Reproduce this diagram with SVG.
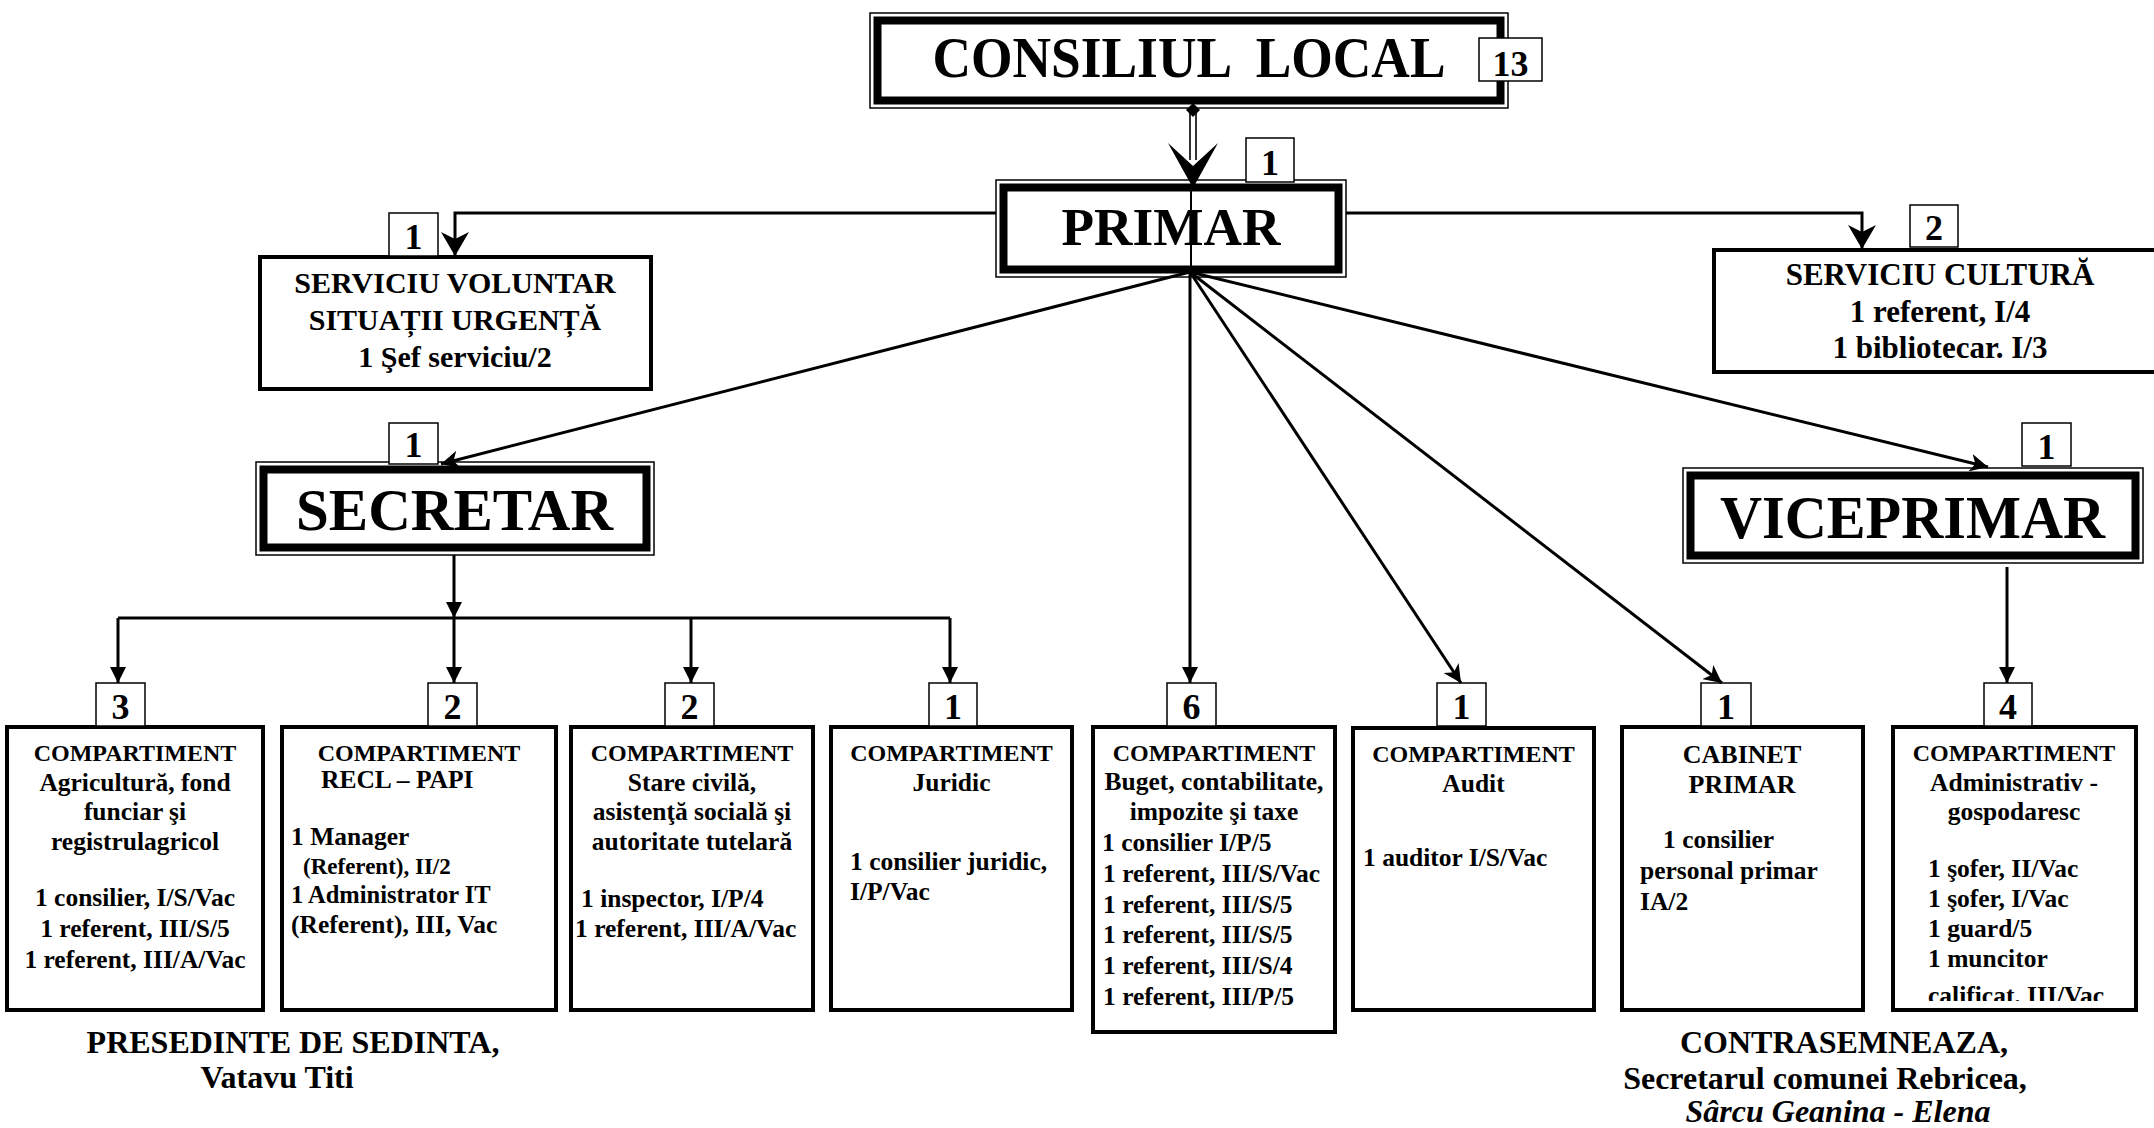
<svg xmlns="http://www.w3.org/2000/svg" width="2154" height="1128" viewBox="0 0 2154 1128">
<defs>
<style>
text{font-family:"Liberation Serif","Times New Roman",serif;font-weight:bold;fill:#000}
.c{text-anchor:middle}
.h{font-size:24px}
.b{font-size:25.5px}
.num{font-size:36px;text-anchor:middle}
.nb{fill:#fff;stroke:#000;stroke-width:1.5}
.box{fill:#fff;stroke:#000;stroke-width:4}
.dout{fill:#fff;stroke:#000;stroke-width:1.5}
.din{fill:none;stroke:#000;stroke-width:8}
.ln{fill:none;stroke:#000;stroke-width:3}
.thin{fill:none;stroke:#000;stroke-width:1.6}
.sig{font-size:32px}
.sv{font-size:30px}
</style>
<marker id="tri" markerUnits="userSpaceOnUse" markerWidth="16" markerHeight="16" viewBox="0 0 16 16" refX="16" refY="8" orient="auto"><path d="M0,0 L16,8 L0,16 z" fill="#000"/></marker>
<marker id="stl" markerUnits="userSpaceOnUse" markerWidth="18" markerHeight="18" viewBox="0 0 18 18" refX="18" refY="9" orient="auto"><path d="M0,0 L18,9 L0,18 L5,9 z" fill="#000"/></marker>
<marker id="stlBig" markerUnits="userSpaceOnUse" markerWidth="24" markerHeight="28" viewBox="0 0 24 28" refX="24" refY="14" orient="auto"><path d="M0,0 L24,14 L0,28 L7,14 z" fill="#000"/></marker>
<clipPath id="clip8"><rect x="1893" y="727" width="243" height="274"/></clipPath>
</defs>
<rect x="0" y="0" width="2154" height="1128" fill="#fff"/>

<g id="consiliul-local">
<rect class="dout" x="870" y="13" width="638" height="95"/>
<rect class="din" x="877.5" y="20.5" width="623" height="80"/>
<text class="c" x="1189" y="77" font-size="56" textLength="513" lengthAdjust="spacingAndGlyphs" xml:space="preserve">CONSILIUL  LOCAL</text>
<rect class="nb" x="1479" y="38" width="63" height="43"/>
<text class="num" x="1510.5" y="76" font-size="40">13</text>
</g>

<g id="primar">
<rect class="dout" x="996" y="180" width="350" height="97"/>
<rect class="din" x="1003.5" y="187.5" width="335" height="82"/>
<text class="c" x="1171" y="245" font-size="53" textLength="219" lengthAdjust="spacingAndGlyphs">PRIMAR</text>
<rect class="nb" x="1246" y="138" width="48" height="44"/>
<text class="num" x="1270" y="175">1</text>
</g>

<g id="serviciu-voluntar">
<rect class="box" x="260" y="257" width="391" height="132"/>
<text class="c sv" x="455" y="293">SERVICIU VOLUNTAR</text>
<text class="c sv" x="455" y="330">SITUAȚII URGENȚĂ</text>
<text class="c sv" x="455" y="367">1 Şef serviciu/2</text>
<rect class="nb" x="389" y="213" width="49" height="43"/>
<text class="num" x="413.5" y="249">1</text>
</g>

<g id="serviciu-cultura">
<rect class="box" x="1714" y="250" width="452" height="122"/>
<text class="c" x="1940" y="285" font-size="31">SERVICIU CULTURĂ</text>
<text class="c" x="1940" y="322" font-size="31">1 referent, I/4</text>
<text class="c" x="1940" y="358" font-size="31">1 bibliotecar. I/3</text>
<rect class="nb" x="1910" y="205" width="48" height="42"/>
<text class="num" x="1934" y="240">2</text>
</g>

<g id="secretar">
<rect class="dout" x="256" y="462" width="398" height="93"/>
<rect class="din" x="263.5" y="469.5" width="383" height="78"/>
<text class="c" x="454.5" y="530" font-size="60" textLength="317" lengthAdjust="spacingAndGlyphs">SECRETAR</text>
<rect class="nb" x="389" y="423" width="49" height="41"/>
<text class="num" x="413.5" y="457">1</text>
</g>

<g id="viceprimar">
<rect class="dout" x="1683" y="468" width="460" height="95"/>
<rect class="din" x="1690.5" y="475.5" width="445" height="80"/>
<text class="c" x="1912.5" y="538" font-size="62" textLength="385" lengthAdjust="spacingAndGlyphs">VICEPRIMAR</text>
<rect class="nb" x="2022" y="423" width="49" height="43"/>
<text class="num" x="2046.5" y="459">1</text>
</g>

<g id="comp-agricultura">
<rect class="box" x="7" y="727" width="256" height="283"/>
<text class="c h" x="135" y="761">COMPARTIMENT</text>
<text class="c b" x="135" y="791">Agricultură, fond</text>
<text class="c b" x="135" y="820">funciar şi</text>
<text class="c b" x="135" y="850">registrulagricol</text>
<text class="c b" x="135" y="906">1 consilier, I/S/Vac</text>
<text class="c b" x="135" y="937">1 referent, III/S/5</text>
<text class="c b" x="135" y="968">1 referent, III/A/Vac</text>
<rect class="nb" x="96" y="683" width="49" height="43"/>
<text class="num" x="120.5" y="719">3</text>
</g>

<g id="comp-recl">
<rect class="box" x="282" y="727" width="274" height="283"/>
<text class="c h" x="419" y="761">COMPARTIMENT</text>
<text class="b" x="321" y="788">RECL – PAPI</text>
<text class="b" x="291" y="845">1 Manager</text>
<text x="303" y="874" font-size="23">(Referent), II/2</text>
<text x="291" y="903" font-size="24.5">1 Administrator IT</text>
<text class="b" x="291" y="933">(Referent), III, Vac</text>
<rect class="nb" x="428" y="683" width="49" height="43"/>
<text class="num" x="452.5" y="719">2</text>
</g>

<g id="comp-stare-civila">
<rect class="box" x="571" y="727" width="242" height="283"/>
<text class="c h" x="692" y="761">COMPARTIMENT</text>
<text class="c b" x="692" y="791">Stare civilă,</text>
<text class="c b" x="692" y="820">asistenţă socială şi</text>
<text class="c b" x="692" y="850">autoritate tutelară</text>
<text class="b" x="581" y="907">1 inspector, I/P/4</text>
<text class="b" x="575" y="937">1 referent, III/A/Vac</text>
<rect class="nb" x="665" y="683" width="49" height="43"/>
<text class="num" x="689.5" y="719">2</text>
</g>

<g id="comp-juridic">
<rect class="box" x="831" y="727" width="241" height="283"/>
<text class="c h" x="951.5" y="761">COMPARTIMENT</text>
<text class="c b" x="951.5" y="791">Juridic</text>
<text class="b" x="850" y="870">1 consilier juridic,</text>
<text class="b" x="850" y="900">I/P/Vac</text>
<rect class="nb" x="929" y="683" width="48" height="43"/>
<text class="num" x="953" y="719">1</text>
</g>

<g id="comp-buget">
<rect class="box" x="1093" y="727" width="242" height="305"/>
<text class="c h" x="1214" y="761">COMPARTIMENT</text>
<text class="c b" x="1214" y="790">Buget, contabilitate,</text>
<text class="c b" x="1214" y="820">impozite şi taxe</text>
<text class="b" x="1102" y="851">1 consilier I/P/5</text>
<text class="b" x="1103" y="882">1 referent, III/S/Vac</text>
<text class="b" x="1103" y="913">1 referent, III/S/5</text>
<text class="b" x="1103" y="943">1 referent, III/S/5</text>
<text class="b" x="1103" y="974">1 referent, III/S/4</text>
<text class="b" x="1103" y="1005">1 referent, III/P/5</text>
<rect class="nb" x="1167" y="683" width="49" height="43"/>
<text class="num" x="1191.5" y="719">6</text>
</g>

<g id="comp-audit">
<rect class="box" x="1353" y="728" width="241" height="282"/>
<text class="c h" x="1473.5" y="762">COMPARTIMENT</text>
<text class="c b" x="1473.5" y="792">Audit</text>
<text class="b" x="1363" y="866">1 auditor I/S/Vac</text>
<rect class="nb" x="1437" y="683" width="49" height="43"/>
<text class="num" x="1461.5" y="719">1</text>
</g>

<g id="cabinet-primar">
<rect class="box" x="1622" y="727" width="241" height="283"/>
<text class="c" x="1742" y="763" font-size="26">CABINET</text>
<text class="c" x="1742" y="793" font-size="26">PRIMAR</text>
<text class="b" x="1663" y="848">1 consilier</text>
<text class="b" x="1640" y="879">personal primar</text>
<text class="b" x="1640" y="910">IA/2</text>
<rect class="nb" x="1701" y="683" width="50" height="43"/>
<text class="num" x="1726" y="719">1</text>
</g>

<g id="comp-administrativ">
<rect class="box" x="1893" y="727" width="243" height="283"/>
<text class="c h" x="2014" y="761">COMPARTIMENT</text>
<text class="c b" x="2014" y="791">Administrativ -</text>
<text class="c b" x="2014" y="820">gospodaresc</text>
<text class="b" x="1928" y="877">1 şofer, II/Vac</text>
<text class="b" x="1928" y="907">1 şofer, I/Vac</text>
<text class="b" x="1928" y="937">1 guard/5</text>
<text class="b" x="1928" y="967">1 muncitor</text>
<text class="b" x="1928" y="1004" clip-path="url(#clip8)">calificat. III/Vac</text>
<rect class="nb" x="1984" y="683" width="48" height="43"/>
<text class="num" x="2008" y="719">4</text>
</g>

<g id="connectors">
<line class="thin" x1="1190" y1="110" x2="1190" y2="160"/>
<line class="thin" x1="1196" y1="110" x2="1196" y2="160"/>
<polygon points="1193,103 1200,110 1193,117 1186,110" fill="#000"/>
<polygon points="1168,143 1193,166 1218,143 1193,188" fill="#000"/>
<line x1="1191" y1="185" x2="1191" y2="272" stroke="#000" stroke-width="2"/>

<path class="ln" d="M996,213 H455 V256" marker-end="url(#stlBig)"/>
<path class="ln" d="M1346,213 H1862 V249" marker-end="url(#stlBig)"/>

<path class="ln" d="M1190,272 L441,464" marker-end="url(#stl)"/>
<path class="ln" d="M1190,272 V683" marker-end="url(#tri)"/>
<path class="ln" d="M1190,272 L1461,683" marker-end="url(#stl)"/>
<path class="ln" d="M1190,272 L1722,683" marker-end="url(#stl)"/>
<path class="ln" d="M1190,272 L1988,467" marker-end="url(#stl)"/>

<path class="ln" d="M454,555 V618" marker-end="url(#tri)"/>
<path class="ln" d="M118,618 H950"/>
<path class="ln" d="M118,618 V683" marker-end="url(#tri)"/>
<path class="ln" d="M454,618 V683" marker-end="url(#tri)"/>
<path class="ln" d="M691,618 V683" marker-end="url(#tri)"/>
<path class="ln" d="M950,618 V683" marker-end="url(#tri)"/>

<path class="ln" d="M2007,567 V683" marker-end="url(#tri)"/>
</g>

<g id="signatures">
<text class="c sig" x="293" y="1053">PRESEDINTE DE SEDINTA,</text>
<text class="c sig" x="277" y="1088">Vatavu Titi</text>
<text class="c sig" x="1844" y="1053">CONTRASEMNEAZA,</text>
<text class="c sig" x="1825" y="1089">Secretarul comunei Rebricea,</text>
<text class="c sig" x="1838" y="1122" font-style="italic">Sârcu Geanina - Elena</text>
</g>
</svg>
